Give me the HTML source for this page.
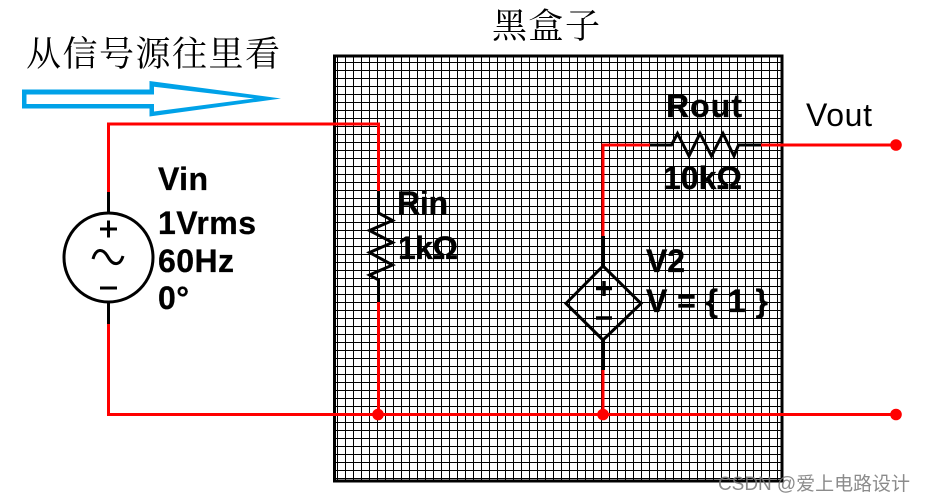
<!DOCTYPE html>
<html><head><meta charset="utf-8"><style>
html,body{margin:0;padding:0;background:#fff;width:925px;height:502px;overflow:hidden}
svg{display:block}
.b{font-family:"Liberation Sans",sans-serif;font-weight:bold;font-size:32px;fill:#000;stroke:#000;stroke-width:.3px}
.s{font-family:"Liberation Serif","Noto Serif CJK SC",serif;fill:#000;font-weight:400}
</style></head><body>
<svg width="925" height="502" viewBox="0 0 925 502" xmlns="http://www.w3.org/2000/svg">
<g stroke="#000" fill="none" shape-rendering="crispEdges">
<line x1="337" y1="268.500" x2="782" y2="268.500" stroke-width="425" stroke-dasharray="1 7"/>
<line x1="558" y1="62" x2="558" y2="481" stroke-width="447" stroke-dasharray="1 7"/>
</g>
<rect x="334.500" y="56" width="447.500" height="425" fill="none" stroke="#000" stroke-width="3"/>
<text class="s" x="26" y="66" font-size="35" letter-spacing="1.500">从信号源往里看</text>
<text class="s" x="492" y="38" font-size="35" letter-spacing="1.500">黑盒子</text>
<path fill="#00a2e8" fill-rule="evenodd" d="M22 89.500 H149.500 V81 L281 98.500 L149.500 116.500 V108.500 H22 Z M26.500 94.500 V104 H154 V111.500 L254 98.500 L154 86.700 V94.500 Z"/>
<g fill="none" stroke="#f00" stroke-width="3">
<path d="M108.500 192 V124 H378.500 V191"/>
<path d="M378.500 302 V414.500"/>
<path d="M108.500 324 V414.500 H896"/>
<path d="M603 236 V145 H650"/>
<path d="M603 370 V414.500"/>
<path d="M761 145 H896"/>
</g>
<g fill="#f00"><circle cx="378" cy="414.500" r="5.800"/><circle cx="603" cy="414.500" r="5.800"/><circle cx="896" cy="414.500" r="5.800"/><circle cx="896" cy="145" r="5.800"/></g>
<g fill="none" stroke="#000" stroke-width="3">
<path d="M108.500 192 V213 M108.500 303 V324" stroke-width="3"/>
<circle cx="108.500" cy="257.500" r="44.500" stroke-width="3"/>
<path d="M100 229 H117 M108.500 220.500 V237.500 M100 288 H117" stroke-width="3"/>
<path d="M93 259 C96 248 103 248 108 257 C113 266 120 266 123 256" stroke-width="3"/>
<path d="M378.500 191 V213 L392.500 220.500 L369.500 230.500 L392.500 242.500 L369.500 252.500 L392.500 265 L369.500 275 L378.500 280 V302" stroke-width="3"/>
<path d="M650 145 H671.500 L677.500 133.500 L689 156 L700 133.500 L711.500 156 L723 133.500 L734 156 L738.500 145 H761" stroke-width="3"/>
<path d="M603 236 V266 M603 340 V370" stroke-width="4"/>
<path d="M603 266 L641 303.500 L603 340 L566 303.500 Z" stroke-width="3"/>
<path d="M596 288.500 H612 M604 281 V296 M596 318 H612" stroke-width="3.500"/>
</g>
<text class="b" x="158" y="190" textLength="50" lengthAdjust="spacing">Vin</text>
<text class="b" x="158" y="234" textLength="98" lengthAdjust="spacing">1Vrms</text>
<text class="b" x="158" y="272" textLength="76" lengthAdjust="spacing">60Hz</text>
<text class="b" x="158" y="309" textLength="31" lengthAdjust="spacing">0°</text>
<text class="b" x="397" y="214" textLength="51" lengthAdjust="spacing">Rin</text>
<text class="b" x="398" y="259" textLength="60" lengthAdjust="spacing">1kΩ</text>
<text class="b" x="666" y="117" textLength="76" lengthAdjust="spacing">Rout</text>
<text class="b" x="663" y="189" textLength="79" lengthAdjust="spacing">10kΩ</text>
<text class="b" x="646" y="272" textLength="39" lengthAdjust="spacing">V2</text>
<text class="b" x="646" y="312" textLength="122" lengthAdjust="spacing">V = { 1 }</text>
<text x="806" y="126" font-family="'Liberation Sans',sans-serif" font-size="32" fill="#000" textLength="66">Vout</text>
<text x="718" y="490" font-family="'Liberation Sans','Noto Sans CJK SC',sans-serif" font-size="19" fill="#777" fill-opacity="0.85" textLength="192">CSDN @爱上电路设计</text>
</svg>
</body></html>
